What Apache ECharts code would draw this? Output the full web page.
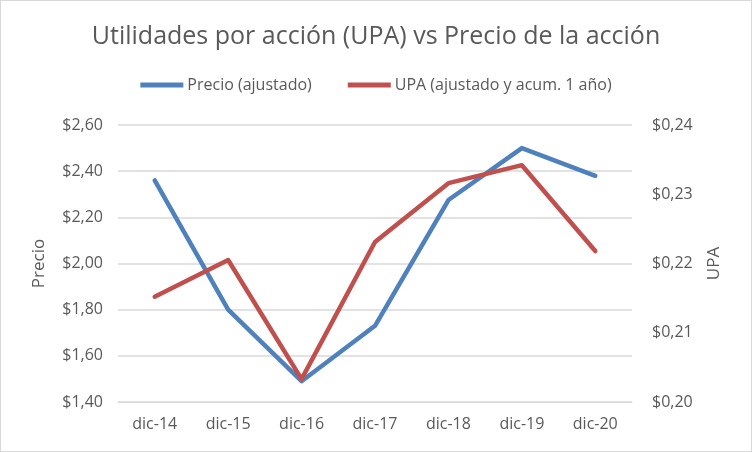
<!DOCTYPE html>
<html><head><meta charset="utf-8">
<script src="https://cdn.jsdelivr.net/npm/echarts@6/dist/echarts.min.js"></script>
<style>html,body{margin:0;padding:0;background:#fff}#c{width:750px;height:450px;border:1px solid #D9D9D9}</style>
</head><body><div id="c"></div>
<script>
const categories = ['dic-14','dic-15','dic-16','dic-17','dic-18','dic-19','dic-20'];
const precio = [2.36, 1.80, 1.49, 1.73, 2.275, 2.50, 2.38];
const upa = [0.2152, 0.2205, 0.2033, 0.2231, 0.2316, 0.2342, 0.2218];
const leftTicks = [1.4, 2.6, 0.2];
const rightTicks = [0.20, 0.24, 0.01];
const FONT = 'Open Sans';
const chart = echarts.init(document.getElementById('c'), null, {renderer:'canvas'});
const fmt = (v, d) => '$' + v.toFixed(d).replace('.', ',');
chart.setOption({
  animation:false,
  textStyle:{fontFamily:FONT},
  title:{text:'Utilidades por acción (UPA) vs Precio de la acción', left:'center', top:18,
    textStyle:{fontFamily:FONT, fontSize:25, fontWeight:'normal', color:'#595959'}},
  legend:{top:71, left:'center', icon:'rect', itemWidth:43, itemHeight:5, itemGap:36,
    textStyle:{fontFamily:FONT, fontSize:16, color:'#595959', padding:[0,0,0,-1]},
    data:['Precio (ajustado)','UPA (ajustado y acum. 1 año)']},
  grid:{left:117, right:119, top:124, bottom:49, containLabel:false},
  xAxis:{type:'category', data:categories, boundaryGap:true,
    axisLine:{lineStyle:{color:'#D9D9D9'}}, axisTick:{show:false},
    axisLabel:{color:'#595959', fontSize:16, margin:14}},
  yAxis:[
    {type:'value', min:leftTicks[0], max:leftTicks[1], interval:leftTicks[2], name:'Precio',
     nameLocation:'middle', nameGap:70, nameRotate:90,
     nameTextStyle:{color:'#595959', fontSize:17},
     axisLabel:{color:'#595959', fontSize:16, margin:15, formatter:v=>fmt(v,2)},
     axisLine:{show:false}, axisTick:{show:false},
     splitLine:{lineStyle:{color:'#D9D9D9', width:1.5}}},
    {type:'value', min:rightTicks[0], max:rightTicks[1], interval:rightTicks[2], name:'UPA',
     nameLocation:'middle', nameGap:74, nameRotate:90,
     nameTextStyle:{color:'#595959', fontSize:17},
     axisLabel:{color:'#595959', fontSize:16, margin:20, formatter:v=>fmt(v,2)},
     axisLine:{show:false}, axisTick:{show:false}, splitLine:{show:false}}
  ],
  series:[
    {name:'Precio (ajustado)', type:'line', data:precio, yAxisIndex:0, symbol:'none',
     lineStyle:{color:'#4F81BD', width:4.5, cap:'round', join:'round'}, itemStyle:{color:'#4F81BD'}},
    {name:'UPA (ajustado y acum. 1 año)', type:'line', data:upa, yAxisIndex:1, symbol:'none',
     lineStyle:{color:'#C0504D', width:4.5, cap:'round', join:'round'}, itemStyle:{color:'#C0504D'}}
  ]
});
</script></body></html>
